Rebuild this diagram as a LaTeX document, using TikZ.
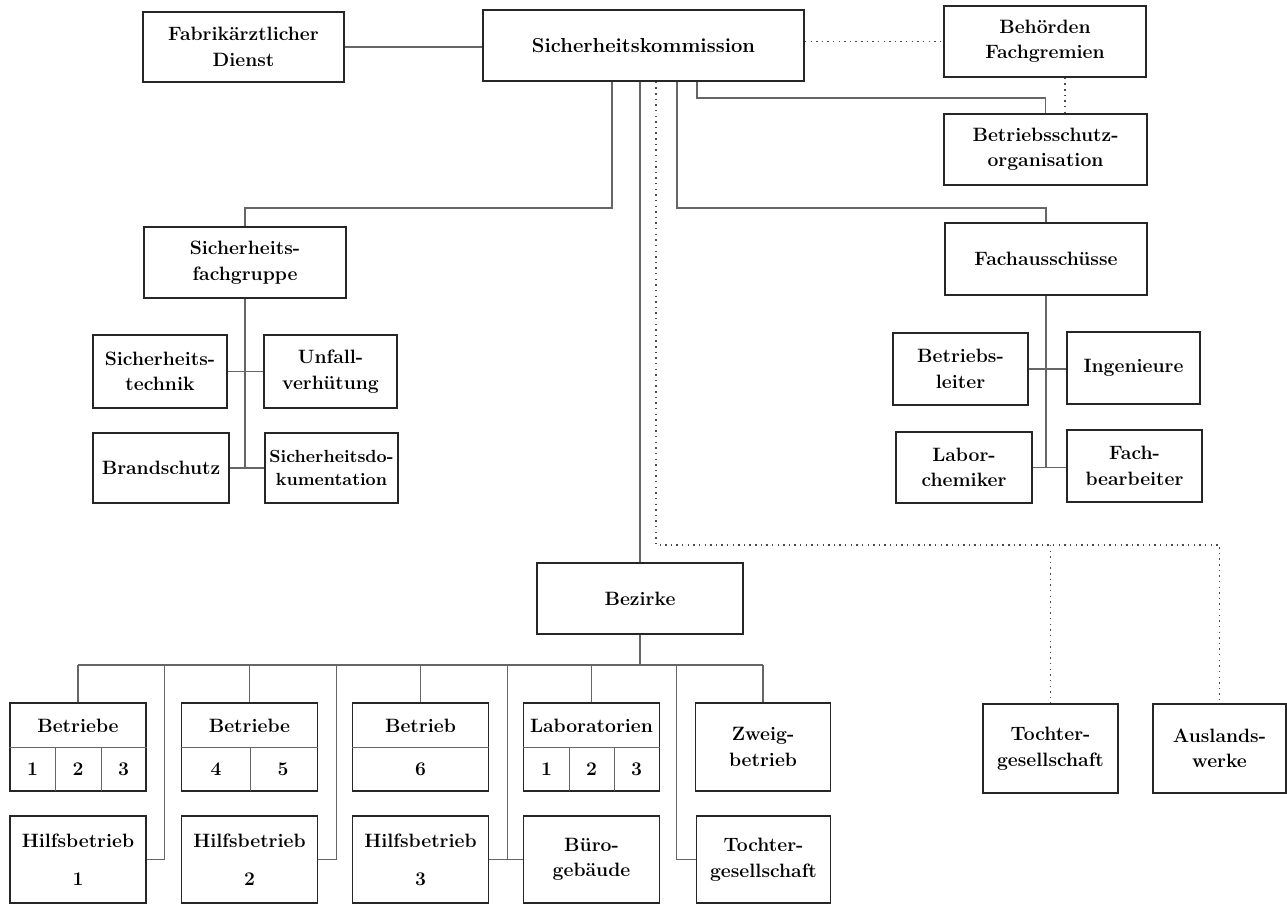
\documentclass[tikz,border=0pt]{standalone}
\tikzset{
  box/.style 2 args={draw=black!85, line width=1pt, minimum width=#1*0.02cm, minimum height=#2*0.02cm,
    align=center, inner sep=1pt, font=\fontsize{11}{14.5}\selectfont\bfseries},
  lbl/.style={inner sep=0pt, font=\fontsize{11}{14.5}\selectfont\bfseries},
  link/.style={draw=black!60, line width=0.6pt},
  dots/.style={draw=black!70, line width=0.8pt, dash pattern=on 0.8pt off 2.4pt},
  divider/.style={draw=black!60, line width=0.5pt},
}
\begin{document}
\begin{tikzpicture}[x=0.02cm, y=-0.02cm]
  \useasboundingbox[fill=white] (0,0) rectangle (1287,905);

  \node[box={201}{70}] (fab) at (243.5,47) {Fabrikärztlicher\\Dienst};
  \node[box={321}{71}, font=\fontsize{11.5}{14.5}\selectfont\bfseries] (sk) at (643.5,45.5) {Sicherheitskommission};
  \node[box={202}{71}] (beh) at (1045,41.5) {Behörden\\Fachgremien};
  \node[box={203}{71}] (bso) at (1045.5,149.5) {Betriebsschutz-\\organisation};
  \node[box={202}{71}] (sfg) at (245,262.5) {Sicherheits-\\fachgruppe};
  \node[box={202}{72}] (fa) at (1046,259) {Fachausschüsse};

  \node[box={134}{73}] (st) at (160,371.5) {Sicherheits-\\technik};
  \node[box={133}{73}] (uv) at (330.5,371.5) {Unfall-\\verhütung};
  \node[box={136}{70}] (bs) at (161,468) {Brandschutz};
  \node[box={133}{70}, font=\fontsize{10}{13}\selectfont\bfseries] (sd) at (331.5,468) {Sicherheitsdo-\\kumentation};

  \node[box={135}{72}] (bl) at (960.5,369) {Betriebs-\\leiter};
  \node[box={133}{72}] (ing) at (1133.5,368) {Ingenieure};
  \node[box={136}{71}] (lc) at (964,467.5) {Labor-\\chemiker};
  \node[box={135}{72}] (fb) at (1134.5,466) {Fach-\\bearbeiter};

  \node[box={206}{71}] (bez) at (640,598.5) {Bezirke};

  % split boxes
  \foreach \n/\x in {b1/78, b2/249.5, b3/420.5, b4/591.5}
    \node[box={136}{88}] (\n) at (\x,747) {};
  \node[box={135}{88}] (zw) at (763,747) {Zweig-\\betrieb};
  \foreach \n/\x/\t in {b1t/78/Betriebe, b2t/249.5/Betriebe, b3t/420.5/Betrieb, b4t/591.5/Laboratorien}
    \node[lbl] (\n) at (\x,726) {\t};
  \foreach \n/\x/\t in {b1a/32.5/1, b1b/78/2, b1c/123.5/3, b2a/216/4, b2b/283/5, b3a/420.5/6,
                        b4a/546.5/1, b4b/591.5/2, b4c/636.5/3}
    \node[lbl] (\n) at (\x,769) {\t};
  \foreach \n in {b1,b2,b3,b4}
    \draw[divider] (\n.west) -- (\n.east);
  \foreach \x in {55,101,250,569,614}
    \draw[divider] (\x,747) -- (\x,791);

  \node[box={136}{87}] (h1) at (78,859.5) {Hilfsbetrieb\\[7pt]1};
  \node[box={136}{87}] (h2) at (249.5,859.5) {Hilfsbetrieb\\[7pt]2};
  \node[box={136}{87}] (h3) at (420.5,859.5) {Hilfsbetrieb\\[7pt]3};
  \node[box={136}{87}] (bg) at (591.5,859.5) {Büro-\\gebäude};
  \node[box={134}{87}] (tg) at (763.5,859.5) {Tochter-\\gesellschaft};

  \node[box={135}{89}] (toch) at (1050.5,748.5) {Tochter-\\gesellschaft};
  \node[box={133}{89}] (aus) at (1219.5,748.5) {Auslands-\\werke};

  \coordinate (ya) at (0,98);
  \coordinate (yb) at (0,208);
  \coordinate (yc) at (0,545);
  \coordinate (yd) at (0,665);
  \coordinate (xa) at (612,0);
  \coordinate (xc) at (656,0);
  \coordinate (xd) at (677,0);
  \coordinate (xe) at (697,0);
  \coordinate (xf) at (1065,0);

  \draw[link] (fab.east) -- (fab.east -| sk.west);
  \draw[dots] (beh.west -| sk.east) -- (beh.west);
  \draw[dots] (beh.south -| xf) -- (bso.north -| xf);
  \draw[link] (sk.south -| xe) |- (bso.north |- ya) -- (bso.north);
  \draw[link] (sk.south -| xa) |- (sfg.north |- yb) -- (sfg.north);
  \draw[link] (sk.south -| xd) |- (fa.north |- yb) -- (fa.north);
  \draw[link] (sk.south -| bez.north) -- (bez.north);
  \draw[dots] (sk.south -| xc) |- (aus.north |- yc) -- (aus.north);
  \draw[dots] (toch.north |- yc) -- (toch.north);

  \draw[link] (sfg.south) -- (sfg.south |- bs.east);
  \draw[link] (st.east) -- (uv.west);
  \draw[link] (bs.east) -- (sd.west);
  \draw[link] (fa.south) -- (fa.south |- lc.east);
  \draw[link] (bl.east) -- (bl.east -| ing.west);
  \draw[link] (lc.east) -- (lc.east -| fb.west);

  \draw[link] (bez.south) -- (bez.south |- yd);
  \draw[link] (b1.north |- yd) -- (zw.north |- yd);
  \foreach \n in {b1,b2,b3,b4,zw}
    \draw[link] (\n.north) -- (\n.north |- yd);
  \foreach \n in {h1,h2,h3}
    \draw[link] (\n.east) -- ++(18,0) coordinate (k) -- (k |- yd);
  \draw[link] (h3.east) -- (bg.west);
  \draw[link] (tg.west) -- ++(-19,0) coordinate (k) -- (k |- yd);
\end{tikzpicture}
\end{document}
